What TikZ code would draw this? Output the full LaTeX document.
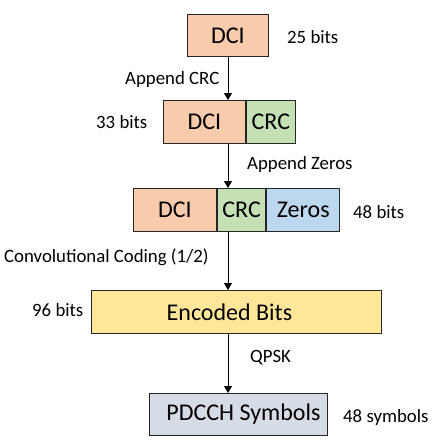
\documentclass[tikz,border=0pt]{standalone}
\usepackage{fontspec}
\setmainfont{Carlito}
\usepackage{tikz}
\usetikzlibrary{arrows.meta}

\definecolor{dciorange}{HTML}{F8CBAD}
\definecolor{crcgreen}{HTML}{C5E0B4}
\definecolor{zeroblue}{HTML}{BDD7EE}
\definecolor{encyellow}{HTML}{FFE699}
\definecolor{symgray}{HTML}{D6DCE5}

\begin{document}
\begin{tikzpicture}[x=1pt, y=-1pt,
  field/.style={shape=rectangle, inner sep=0pt, line width=0.9pt, draw=black!85,
    font=\fontsize{24}{27}\selectfont},
  note/.style={inner sep=0pt, anchor=west, font=\fontsize{18.8}{22}\selectfont},
  flow/.style={line width=0.8pt, -{Triangle[length=7pt, width=8pt]}}]

\useasboundingbox (0,0) rectangle (434,448);

\node[name=dciA, field, fill=dciorange, minimum width=81pt, minimum height=42pt, anchor=north west] at (187,14) {DCI};

\node[name=dciB, field, fill=dciorange, minimum width=82pt, minimum height=43pt, anchor=north west] at (163,100) {DCI};
\node[name=crcB, field, fill=crcgreen, minimum width=49pt, minimum height=43pt, anchor=west] at (dciB.east) {CRC};

\node[name=dciC, field, fill=dciorange, minimum width=83pt, minimum height=43pt, anchor=north west] at (133,188) {DCI};
\node[name=crcC, field, fill=crcgreen, minimum width=48.5pt, minimum height=43pt, anchor=west] at (dciC.east) {CRC};
\node[name=zeroC, field, fill=zeroblue, minimum width=73pt, minimum height=43pt, anchor=west] at (crcC.east) {Zeros};

\node[name=enc, field, fill=encyellow, minimum width=290pt, minimum height=43pt, anchor=north west] at (91,290) {\hspace*{-14pt}Encoded Bits};

\node[name=sym, field, fill=symgray, minimum width=178pt, minimum height=42pt, anchor=north west] at (149,393) {\hspace*{10pt}PDCCH Symbols};

\node[name=lenA, note] at (287,37) {25 bits};
\node[name=lenB, note] at (96,122) {33 bits};
\node[name=lenC, note] at (353,212) {48 bits};
\node[name=lenD, note] at (32,310) {96 bits};
\node[name=lenE, note] at (343,417) {48 symbols};

\node[name=stepA, note] at (125,79) {Append CRC};
\node[name=stepB, note] at (247,164) {Append Zeros};
\node[name=stepC, note] at (4,257) {Convolutional Coding (1/2)};
\node[name=stepD, note] at (250,358) {QPSK};

\draw[flow] (228,0 |- dciA.south) -- (228,0 |- dciB.north);
\draw[flow] (228,0 |- dciB.south) -- (228,0 |- crcC.north);
\draw[flow] (228,0 |- crcC.south) -- (228,0 |- enc.north);
\draw[flow] (228,0 |- enc.south) -- (228,0 |- sym.north);

\end{tikzpicture}
\end{document}
